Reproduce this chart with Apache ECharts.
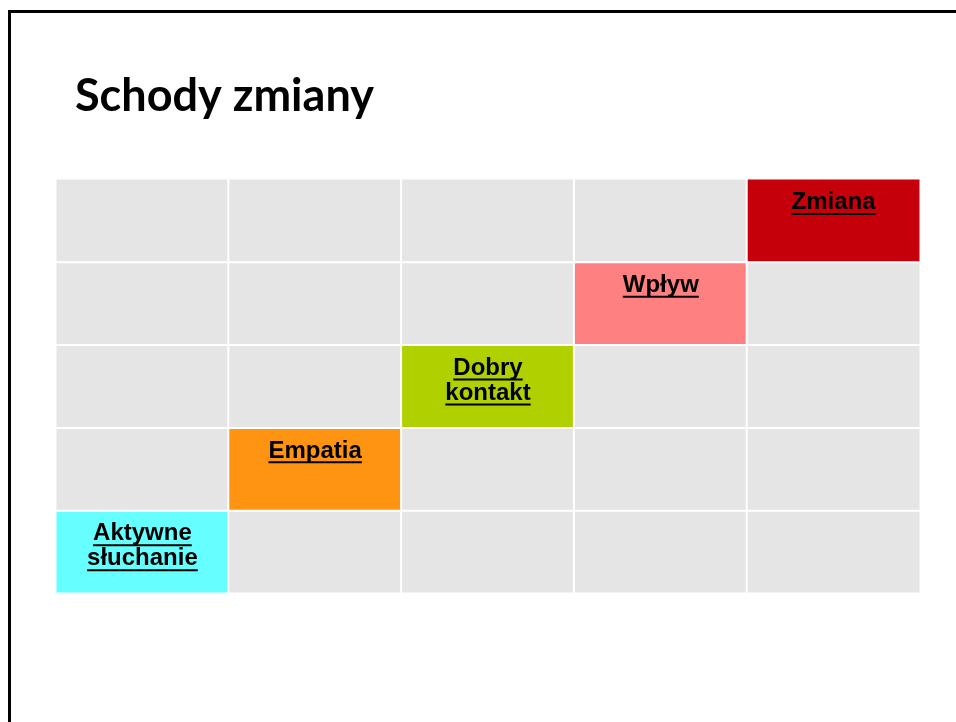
<!DOCTYPE html>
<html>
<head>
<meta charset="utf-8">
<script src="https://cdn.jsdelivr.net/npm/echarts@6/dist/echarts.min.js"></script>
<style>html,body{margin:0;padding:0;background:#fff}#c{width:956px;height:722px}</style>
</head>
<body>
<div id="c"></div>
<script>
// ---- data ----
const titleText = 'Schody zmiany';
const xCategories = ['1', '2', '3', '4', '5'];
const yCategories = ['1', '2', '3', '4', '5'];
const stepLabels = ['Aktywne\nsłuchanie', 'Empatia', 'Dobry\nkontakt', 'Wpływ', 'Zmiana'];
const stepColumns = [0, 1, 2, 3, 4];
const stepRows = [0, 1, 2, 3, 4];
const stepColors = ['#66ffff', '#ff9412', '#b0d000', '#ff8080', '#c5000b'];
const emptyColor = '#e5e5e5';

// build cells: [col, row, stepIndex or -1]
const cells = [];
for (let r = 0; r < yCategories.length; r++) {
  for (let c = 0; c < xCategories.length; c++) {
    let s = -1;
    for (let k = 0; k < stepLabels.length; k++) {
      if (stepColumns[k] === c && stepRows[k] === r) s = k;
    }
    cells.push([c, r, s]);
  }
}

const FONT_SIZE = 24;
const LINE_H = 25;
const FONT = 'bold ' + FONT_SIZE + 'px "Liberation Sans", Arial, sans-serif';
const measureCtx = document.createElement('canvas').getContext('2d');
measureCtx.font = FONT;

function renderItem(params, api) {
  const c = api.coord([api.value(0), api.value(1)]);
  const s = api.size([1, 1]);
  const k = api.value(2);
  const left = c[0] - s[0] / 2, top = c[1] - s[1] / 2;
  const children = [{
    type: 'rect',
    shape: { x: left - 0.5, y: top - 0.5, width: s[0] + 1, height: s[1] + 1 },
    style: { fill: k >= 0 ? stepColors[k] : emptyColor, stroke: '#ffffff', lineWidth: 2 }
  }];
  if (k >= 0) {
    const text = stepLabels[k];
    const ty = top + 11;
    children.push({
      type: 'text',
      style: {
        text: text, x: c[0], y: ty, font: FONT, fill: '#000',
        align: 'center', verticalAlign: 'top', lineHeight: LINE_H
      }
    });
    const lines = text.split('\n');
    lines.forEach(function (ln, i) {
      const w = measureCtx.measureText(ln).width;
      const baseline = ty + i * LINE_H + LINE_H / 2 + 0.31 * FONT_SIZE;
      const uy = baseline + 4;
      children.push({
        type: 'line',
        shape: { x1: c[0] - w / 2, y1: uy, x2: c[0] + w / 2, y2: uy },
        style: { stroke: '#000', lineWidth: 2 }
      });
    });
  }
  return { type: 'group', children: children };
}

const chart = echarts.init(document.getElementById('c'), null, { renderer: 'canvas' });
chart.setOption({
  backgroundColor: '#ffffff',
  animation: false,
  title: {
    text: titleText, left: 75, top: 74, padding: 0,
    textStyle: { fontFamily: 'Lato', fontWeight: 'bold', fontSize: 45, color: '#000', lineHeight: 45 }
  },
  grid: { left: 56, right: 36, top: 179, bottom: 129 },
  xAxis: { type: 'category', data: xCategories, show: false },
  yAxis: { type: 'category', data: yCategories, show: false },
  graphic: [{
    type: 'rect',
    shape: { x: 9.5, y: 11.5, width: 2000, height: 2000 },
    style: { fill: 'none', stroke: '#000', lineWidth: 3 },
    silent: true
  }],
  series: [{
    type: 'custom',
    renderItem: renderItem,
    data: cells,
    encode: { x: 0, y: 1 }
  }]
});
</script>
</body>
</html>
